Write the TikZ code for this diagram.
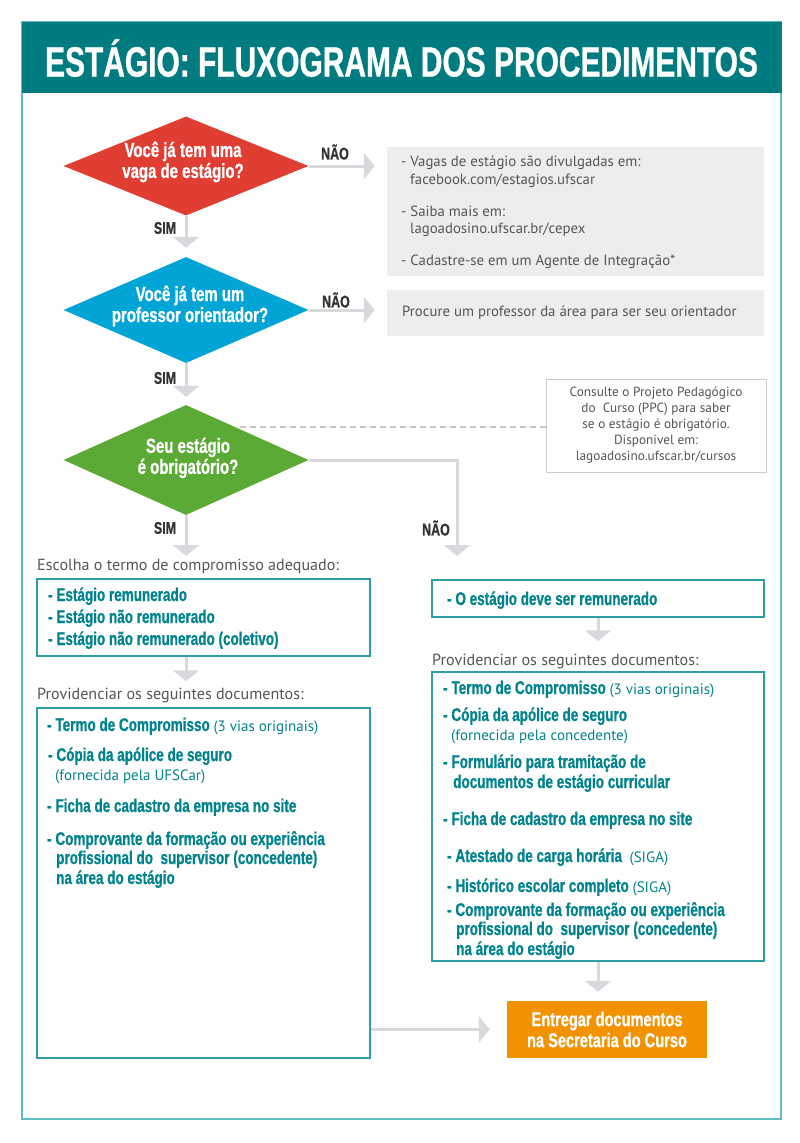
\documentclass[tikz,border=0pt]{standalone}
\usepackage{fontspec}
\setmainfont{PT Sans}
\newfontfamily\cond{Liberation Sans}[FakeStretch=0.73, BoldFeatures={FakeBold=0.8}]
\usetikzlibrary{shapes.geometric,arrows.meta}
\definecolor{headteal}{HTML}{007B7F}
\definecolor{frameteal}{HTML}{5EBDC2}
\definecolor{boxteal}{HTML}{2E9EA7}
\definecolor{txtteal}{HTML}{00838D}
\definecolor{dred}{HTML}{E03E33}
\definecolor{dblue}{HTML}{00A5D6}
\definecolor{dgreen}{HTML}{5BAA35}
\definecolor{dorange}{HTML}{F39200}
\definecolor{lgray}{HTML}{EDEDEE}
\definecolor{agray}{HTML}{D8D9DD}
\definecolor{tgray}{HTML}{555555}
\definecolor{lblgray}{HTML}{333333}
\tikzset{
  arr/.style={draw=agray, line width=3pt, -{Triangle[width=26pt,length=11pt]}},
  dia/.style={diamond, inner sep=0pt, minimum width=245pt, draw=none},
  diatext/.style={text=white, align=center, font=\fontsize{20.5}{21}\cond\bfseries},
  lbl/.style={text=lblgray, font=\fontsize{17}{17}\cond\bfseries},
  graybox/.style={fill=lgray, draw=none, minimum width=377pt},
  tealbox/.style={draw=boxteal, line width=1.5pt, fill=white, minimum width=333pt},
  item/.style={anchor=west, inner sep=0pt, text=txtteal, text height=13pt, text depth=3pt, font=\fontsize{18.5}{18.5}\cond\bfseries},
  sub/.style={anchor=west, inner sep=0pt, text=txtteal, text height=11pt, text depth=3pt, font=\fontsize{15}{15}\selectfont},
  body/.style={anchor=west, inner sep=0pt, text=tgray, text height=11pt, text depth=3pt, font=\fontsize{14.8}{14.8}\selectfont},
  head/.style={anchor=west, inner sep=0pt, text=tgray, text height=12pt, text depth=3pt, font=\fontsize{16.1}{16.1}\selectfont},
}
\newcommand{\rg}[1]{{\fontsize{15}{15}\normalfont\mdseries #1}}
\begin{document}
\begin{tikzpicture}[x=1pt,y=-1pt]
\useasboundingbox (0,0) rectangle (800,1143);
% frame and header
\node[draw=frameteal, line width=2pt, minimum width=759pt, minimum height=1097pt, inner sep=0] (frame) at (401.5,570.5) {};
\node[fill=headteal, minimum width=760pt, minimum height=71pt, inner sep=0] (header) at (401.5,57.5) {};
\node[text=white, font=\fontsize{41}{41}\cond\bfseries] (title) at (401.5,58) {\scalebox{1.0}[1.03]{ESTÁGIO: FLUXOGRAMA DOS PROCEDIMENTOS}};

% diamonds
\node[dia, fill=dred, minimum height=99pt] (d1) at (186,166) {};
\node[diatext] (d1t) at (183,162) {Você já tem uma\\vaga de estágio?};
\node[dia, fill=dblue, minimum height=106pt] (d2) at (186,310) {};
\node[diatext] (d2t) at (190,306) {Você já tem um\\professor orientador?};
\node[dia, fill=dgreen, minimum height=110pt] (d3) at (186,460) {};
\node[diatext] (d3t) at (188,458) {Seu estágio\\é obrigatório?};

% gray boxes
\node[graybox, minimum height=129pt] (b1) at (575.5,211.5) {};
\node[body] (b1a) at (401,162) {- Vagas de estágio são divulgadas em:};
\node[body] (b1b) at (410,180) {facebook.com/estagios.ufscar};
\node[body] (b1c) at (401,212) {- Saiba mais em:};
\node[body] (b1d) at (410,229) {lagoadosino.ufscar.br/cepex};
\node[body] (b1e) at (401,261) {- Cadastre-se em um Agente de Integração*};
\node[graybox, minimum height=46pt] (b2) at (575.5,313) {};
\node[body] (b2a) at (402,312) {Procure um professor da área para ser seu orientador};

% PPC box
\node[draw=black!20, line width=0.8pt, fill=white, minimum width=220pt, minimum height=93pt, align=center, text=tgray, font=\fontsize{13.3}{16}\selectfont] (ppc) at (656,425.5) {Consulte o Projeto Pedagógico\\do\ \ Curso (PPC) para saber\\ se o estágio é obrigatório.\\Disponivel em:\\lagoadosino.ufscar.br/cursos};
\coordinate (dstart) at (240,427);
\draw[draw=black!22, line width=1.3pt, dash pattern=on 6pt off 4pt] (dstart) -- (dstart -| ppc.west);

% labels
\node[lbl] (n1) at (335,152) {NÃO};
\node[lbl] (n2) at (336,300) {NÃO};
\node[lbl] (n3) at (436,528) {NÃO};
\node[lbl] (s1) at (165,228) {SIM};
\node[lbl] (s2) at (165,378) {SIM};
\node[lbl] (s3) at (165,528) {SIM};

% left column
\node[head] (h1) at (37,566) {Escolha o termo de compromisso adequado:};
\node[tealbox, minimum height=77pt] (l1) at (203.5,617.5) {};
\node[item] (l1a) at (48,596) {- Estágio remunerado};
\node[item] (l1b) at (48,618) {- Estágio não remunerado};
\node[item] (l1c) at (48,640) {- Estágio não remunerado (coletivo)};

\node[head] (h2) at (37,695) {Providenciar os seguintes documentos:};
\node[tealbox, minimum height=350pt] (l2) at (203.5,883) {};
\node[item] (l2a) at (47,726) {- Termo de Compromisso \rg{(3 vias originais)}};
\node[item] (l2b) at (48,756) {- Cópia da apólice de seguro};
\node[sub] (l2c) at (55,776) {(fornecida pela UFSCar)};
\node[item] (l2d) at (47,807) {- Ficha de cadastro da empresa no site};
\node[item] (l2e) at (47,840) {- Comprovante da formação ou experiência};
\node[item] (l2f) at (56,859) {profissional do\ \ supervisor (concedente)};
\node[item] (l2g) at (56,879) {na área do estágio};

% right column
\node[tealbox, minimum width=332pt, minimum height=37pt] (r1) at (598,598.5) {};
\node[item] (r1a) at (447,600) {- O estágio deve ser remunerado};
\node[head] (h3) at (432,661) {Providenciar os seguintes documentos:};
\node[tealbox, minimum width=332pt, minimum height=289pt] (r2) at (598,816.5) {};
\node[item] (r2a) at (443,689) {- Termo de Compromisso \rg{(3 vias originais)}};
\node[item] (r2b) at (443,716) {- Cópia da apólice de seguro};
\node[sub] (r2c) at (451,736) {(fornecida pela concedente)};
\node[item] (r2d) at (443,763) {- Formulário para tramitação de};
\node[item] (r2e) at (453,783) {documentos de estágio curricular};
\node[item] (r2f) at (443,820) {- Ficha de cadastro da empresa no site};
\node[item] (r2g) at (447,857) {- Atestado de carga horária\ \ \rg{(SIGA)}};
\node[item] (r2h) at (447,887) {- Histórico escolar completo \rg{(SIGA)}};
\node[item] (r2i) at (447,911) {- Comprovante da formação ou experiência};
\node[item] (r2j) at (456,930) {profissional do\ \ supervisor (concedente)};
\node[item] (r2k) at (456,950) {na área do estágio};

% orange box
\node[fill=dorange, minimum width=200pt, minimum height=57pt, align=center, text=white, font=\fontsize{20}{21}\cond\bfseries] (o) at (607,1029.5) {Entregar documentos\\na Secretaria do Curso};

% connectors
\coordinate (c3) at (457,556);
\draw[arr, shorten >=12pt] (d1.east) -- (d1.east -| b1.west);
\draw[arr, shorten >=12pt] (d2.east) -- (d2.east -| b2.west);
\draw[arr, shorten >=9pt] (d1.south) -- (d2.north);
\draw[arr, shorten >=8pt] (d2.south) -- (d3.north);
\draw[arr] (d3.east) -| (c3);
\draw[arr] (d3.south) -- (d3.south |- c3);
\draw[arr, shorten >=26pt] (l1.south -| d3.south) -- (d3.south |- l2.north);
\draw[arr, shorten >=30pt] (r1.south) -- (r2.north);
\draw[arr, shorten >=9pt] (r2.south) -- (r2.south |- o.north);
\draw[arr, shorten >=17pt] (l2.east |- o.west) -- (o.west);
\end{tikzpicture}
\end{document}
